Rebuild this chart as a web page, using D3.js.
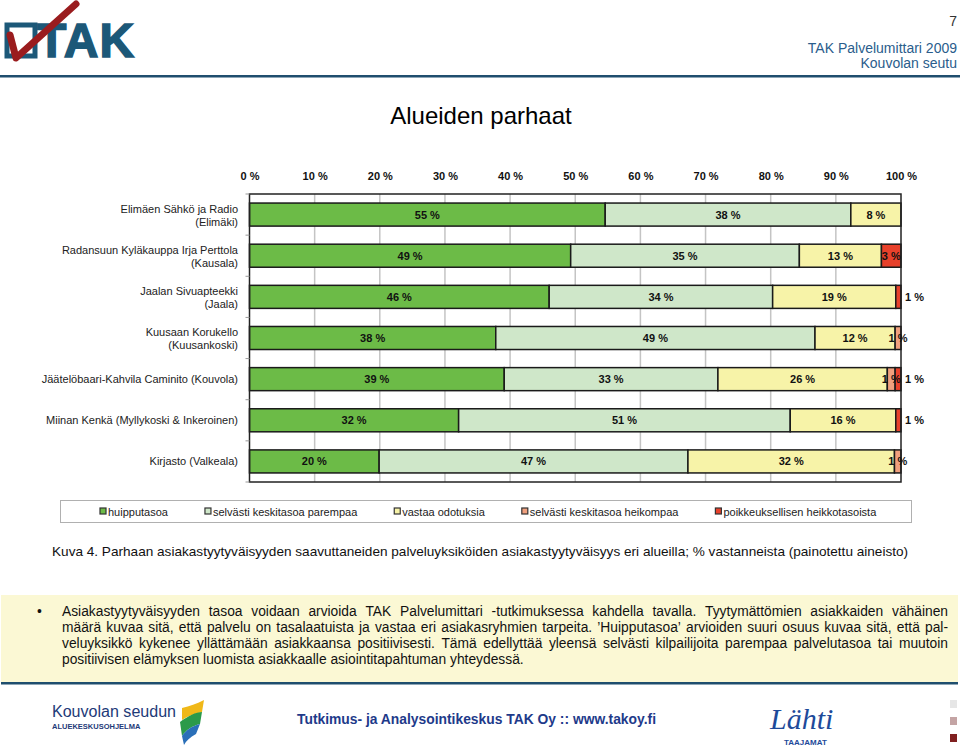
<!DOCTYPE html>
<html><head><meta charset="utf-8">
<script src="https://cdn.jsdelivr.net/npm/d3@7"></script>
<style>
body{margin:0;background:#fff;}
svg{display:block;font-family:Arial,"Liberation Sans",sans-serif;}
</style></head><body>
<svg id="c" width="960" height="747"></svg>
<script>
const categories = [
  "Elimäen Sähkö ja Radio\n(Elimäki)",
  "Radansuun Kyläkauppa Irja Perttola\n(Kausala)",
  "Jaalan Sivuapteekki\n(Jaala)",
  "Kuusaan Korukello\n(Kuusankoski)",
  "Jäätelöbaari-Kahvila Caminito (Kouvola)",
  "Miinan Kenkä (Myllykoski & Inkeroinen)",
  "Kirjasto (Valkeala)"
];
const seriesNames = ["huipputasoa","selvästi keskitasoa parempaa","vastaa odotuksia","selvästi keskitasoa heikompaa","poikkeuksellisen heikkotasoista"];
const huipputasoa      = [54.6, 49.3, 46.0, 37.8, 39.1, 32.1, 19.9];
const parempaa         = [37.7, 35.1, 34.3, 49.0, 32.8, 50.9, 47.4];
const vastaaOdotuksia  = [ 7.7, 12.6, 18.9, 12.3, 26.0, 16.2, 31.7];
const heikompaa        = [ 0,    0,    0,    0.9,  1.2,  0,    1.0];
const poikkeuksellisen = [ 0,    3.0,  0.8,  0,    0.9,  0.8,  0  ];
const tickValues = [0,10,20,30,40,50,60,70,80,90,100];
const colors = ["#6cbb47","#cfe7c9","#f7f3a8","#f0a07e","#e8412b"];

const seriesVals = [huipputasoa, parempaa, vastaaOdotuksia, heikompaa, poikkeuksellisen];
const rows = categories.map((c,i)=>{const o={cat:c}; seriesNames.forEach((s,j)=>o[s]=seriesVals[j][i]); return o;});

const svg = d3.select("#c");
const FONT = 'Arial,"Liberation Sans",sans-serif';

// ---------- Header ----------
const hdr = svg.append("g");
hdr.append("rect").attr("x",7).attr("y",25).attr("width",28).attr("height",31)
  .attr("fill","none").attr("stroke","#1c5878").attr("stroke-width",5);
hdr.append("text").attr("x",37).attr("y",57).attr("font-size",48).attr("font-weight","bold")
  .attr("letter-spacing",1).attr("fill","#1c5878").attr("stroke","#1c5878").attr("stroke-width",1.5).text("TAK");
hdr.append("path").attr("d","M10,35 L16,58 L76,4").attr("fill","none")
  .attr("stroke","#9a1c1e").attr("stroke-width",7).attr("stroke-linejoin","round").attr("stroke-linecap","round");
hdr.append("rect").attr("x",0).attr("y",75).attr("width",960).attr("height",2.5).attr("fill","#1f4e6e");
hdr.append("text").attr("x",957).attr("y",26).attr("text-anchor","end").attr("font-size",14).attr("fill","#333").text("7");
hdr.append("text").attr("x",957).attr("y",53).attr("text-anchor","end").attr("font-size",14).attr("fill","#2a5d8c").text("TAK Palvelumittari 2009");
hdr.append("text").attr("x",957).attr("y",68).attr("text-anchor","end").attr("font-size",14).attr("fill","#2a5d8c").text("Kouvolan seutu");

// Title
svg.append("text").attr("x",481).attr("y",124).attr("text-anchor","middle").attr("font-size",24).attr("fill","#000").text("Alueiden parhaat");

// ---------- Chart ----------
const x = d3.scaleLinear().domain([0,100]).range([249.5,901]);
const y = d3.scaleBand().domain(categories).range([194,482]).paddingInner(0.44).paddingOuter(0.22);
const step = y.step();

const g = svg.append("g");
g.selectAll("line.grid").data(tickValues.filter(t=>t>0&&t<100)).join("line")
  .attr("x1",d=>x(d)).attr("x2",d=>x(d)).attr("y1",194).attr("y2",482)
  .attr("stroke","#c4c4c4").attr("stroke-width",1.5);

const xAxis = d3.axisTop(x).tickValues(tickValues).tickFormat(d=>d+" %").tickSize(0).tickPadding(0);
const ax = g.append("g").attr("transform","translate(0,180)").call(xAxis);
ax.select(".domain").remove();
ax.selectAll("text").attr("font-size",11).attr("font-weight","bold").attr("fill","#111").attr("font-family",FONT).attr("dy","0");

const stack = d3.stack().keys(seriesNames)(rows);
const layers = g.selectAll("g.layer").data(stack).join("g").attr("fill",(d,i)=>colors[i]);
layers.selectAll("rect").data(d=>d.filter(v=>v[1]-v[0]>0)).join("rect")
  .attr("x",d=>x(d[0])).attr("width",d=>x(d[1])-x(d[0]))
  .attr("y",d=>y(d.data.cat)).attr("height",y.bandwidth())
  .attr("stroke","#1a1a1a").attr("stroke-width",1.5);

g.append("rect").attr("x",x(0)).attr("y",194).attr("width",x(100)-x(0)).attr("height",288)
  .attr("fill","none").attr("stroke","#222").attr("stroke-width",1.5);
const yb = d3.range(categories.length+1).map(i=>194+i*step);
g.selectAll("line.ytick").data(yb).join("line").attr("x1",x(0)-4).attr("x2",x(0))
  .attr("y1",d=>d).attr("y2",d=>d).attr("stroke","#999").attr("stroke-width",1);

stack.forEach((layer,si)=>{
  layer.forEach(d=>{
    const v = d[1]-d[0];
    if(v<=0) return;
    const cy = y(d.data.cat)+y.bandwidth()/2+4;
    const outside = si===seriesNames.length-1 && v<2;
    g.append("text")
      .attr("x", outside ? x(100)+4 : (x(d[0])+x(d[1]))/2)
      .attr("y", cy).attr("text-anchor", outside?"start":"middle")
      .attr("font-size",11).attr("font-weight","bold").attr("fill","#111")
      .text(Math.round(v)+" %");
  });
});

categories.forEach(c=>{
  const lines = c.split("\n");
  const cy = y(c)+y.bandwidth()/2;
  lines.forEach((ln,i)=>{
    const off = lines.length===1 ? 4 : (i===0 ? -2 : 11);
    g.append("text").attr("x",238).attr("y",cy+off).attr("text-anchor","end")
      .attr("font-size",11).attr("fill","#222").text(ln);
  });
});

// legend
svg.append("rect").attr("x",60.5).attr("y",500.5).attr("width",851).attr("height",22)
  .attr("fill","#fff").attr("stroke","#b0b0b0").attr("stroke-width",1);
let lx = 100;
seriesNames.forEach((s,i)=>{
  svg.append("rect").attr("x",lx).attr("y",508).attr("width",6).attr("height",6)
    .attr("fill",colors[i]).attr("stroke","#333").attr("stroke-width",1.2);
  const t = svg.append("text").attr("x",lx+8).attr("y",515.5).attr("font-size",11).attr("fill","#222").text(s);
  lx += 8 + t.node().getComputedTextLength() + 37;
});

// caption
svg.append("text").attr("x",52).attr("y",556).attr("font-size",13.6).attr("fill","#111")
  .text("Kuva 4. Parhaan asiakastyytyväisyyden saavuttaneiden palveluyksiköiden asiakastyytyväisyys eri alueilla; % vastanneista (painotettu aineisto)");

// bullet box
svg.append("rect").attr("x",1).attr("y",595).attr("width",957).attr("height",87).attr("fill","#fbf8d4");
svg.append("rect").attr("x",1).attr("y",682).attr("width",957).attr("height",2.5).attr("fill","#1f4e6e");
svg.append("text").attr("x",37).attr("y",616).attr("font-size",13.8).attr("fill","#111").text("•");
const bulletLines = [
  "Asiakastyytyväisyyden tasoa voidaan arvioida TAK Palvelumittari -tutkimuksessa kahdella tavalla. Tyytymättömien asiakkaiden vähäinen",
  "määrä kuvaa sitä, että palvelu on tasalaatuista ja vastaa eri asiakasryhmien tarpeita. ’Huipputasoa’ arvioiden suuri osuus kuvaa sitä, että pal-",
  "veluyksikkö kykenee yllättämään asiakkaansa positiivisesti. Tämä edellyttää yleensä selvästi kilpailijoita parempaa palvelutasoa tai muutoin",
  "positiivisen elämyksen luomista asiakkaalle asiointitapahtuman yhteydessä."
];
bulletLines.forEach((ln,li)=>{
  const by = 616+li*16;
  const words = ln.split(" ");
  if(li===bulletLines.length-1){
    svg.append("text").attr("x",62).attr("y",by).attr("font-size",13.8).attr("fill","#111").text(ln);
    return;
  }
  const nodes = words.map(w=>svg.append("text").attr("y",by).attr("font-size",13.8).attr("fill","#111").text(w));
  const widths = nodes.map(n=>n.node().getComputedTextLength());
  const total = d3.sum(widths);
  const gap = (948-62-total)/(words.length-1);
  let px = 62;
  nodes.forEach((n,i)=>{n.attr("x",px); px += widths[i]+gap;});
});

// ---------- Footer ----------
const ft = svg.append("g");
ft.append("text").attr("x",52).attr("y",717).attr("font-size",16).attr("fill","#1e3a78")
  .attr("font-family",'"Liberation Sans Narrow",Arial,sans-serif').attr("textLength",124).attr("lengthAdjust","spacingAndGlyphs").text("Kouvolan seudun");
ft.append("text").attr("x",52).attr("y",729).attr("font-size",7.5).attr("font-weight","bold").attr("fill","#1e3a78").text("ALUEKESKUSOHJELMA");
ft.append("path").attr("d","M182,708 C190,706 196,704 204,700 L202,712 C194,714 188,716 182,720 Z").attr("fill","#f0b818");
ft.append("path").attr("d","M180,722 C188,716 196,712 202,712 L200,724 C192,726 186,730 182,736 Z").attr("fill","#2b9a4a");
ft.append("path").attr("d","M182,736 C186,730 192,726 200,724 L196,734 C190,737 186,741 184,745 Z").attr("fill","#2a6fb8");
ft.append("text").attr("x",297).attr("y",724).attr("font-size",15).attr("font-weight","bold").attr("fill","#1e3a8a")
  .attr("font-family",'"Liberation Sans Narrow",Arial,sans-serif').attr("textLength",359).attr("lengthAdjust","spacingAndGlyphs")
  .text("Tutkimus- ja Analysointikeskus TAK Oy :: www.takoy.fi");
ft.append("text").attr("x",770).attr("y",729).attr("font-size",30).attr("font-style","italic").attr("fill","#1e4a9a")
  .attr("font-family",'"Liberation Serif",serif').text("Lähti");
ft.append("text").attr("x",784).attr("y",745).attr("font-size",8).attr("font-weight","bold").attr("fill","#1e4a9a").text("TAAJAMAT");
ft.append("rect").attr("x",950).attr("y",700).attr("width",7).attr("height",8).attr("fill","#e6e6e6");
ft.append("rect").attr("x",950).attr("y",717).attr("width",7).attr("height",8).attr("fill","#c4a4a4");
ft.append("rect").attr("x",950).attr("y",734).attr("width",7).attr("height",8).attr("fill","#802020");
</script></body></html>
